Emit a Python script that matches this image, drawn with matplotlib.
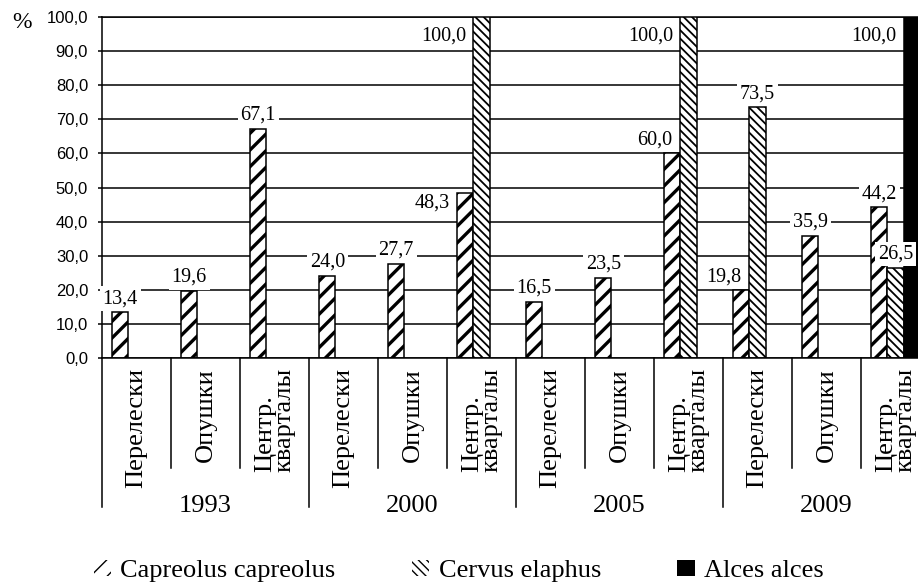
import numpy as np
import matplotlib
matplotlib.use("Agg")
import matplotlib.pyplot as plt
import matplotlib.transforms as mtransforms
from matplotlib.patches import Patch

years = ["1993", "2000", "2005", "2009"]
habitats = ["Перелески", "Опушки", "Центр.\nкварталы"]
series_names = ["Capreolus capreolus", "Cervus elaphus", "Alces alces"]

capreolus = [13.4, 19.6, 67.1, 24.0, 27.7, 48.3, 16.5, 23.5, 60.0, 19.8, 35.9, 44.2]
cervus = [0, 0, 0, 0, 0, 100.0, 0, 0, 100.0, 73.5, 0, 26.5]
alces = [0, 0, 0, 0, 0, 0, 0, 0, 0, 0, 0, 100.0]
yticks = [0, 10, 20, 30, 40, 50, 60, 70, 80, 90, 100]

# label placement per bar: 'top' = centred above, 'tl' = above, left of centre,
# 'side' = to the left of the bar top, None = no label
capreolus_lab = ['top', 'top', 'top', 'top', 'top', 'side', 'top', 'top', 'tl', 'tl', 'top', 'top']
cervus_lab = [None, None, None, None, None, 'side', None, None, 'side', 'top', None, 'top']
alces_lab = [None] * 11 + ['side']

serif = "Liberation Serif"
sans = "Liberation Sans"

fig = plt.figure(figsize=(9.18, 5.84), dpi=100)
W, H = 918, 584
ax = fig.add_axes([102 / W, (H - 358) / H, 828 / W, 341 / H])

n = len(capreolus)
x = np.arange(n)
bw = 0.235
offsets = [-bw, 0, bw]
styles = [
    dict(facecolor='white', hatch='//', hlw=2.4),
    dict(facecolor='white', hatch='\\\\\\\\', hlw=1.3),
    dict(facecolor='black', hatch=None, hlw=1.0),
]

ax.set_axisbelow(True)
handles = []
for vals, off, st, name in zip([capreolus, cervus, alces], offsets, styles, series_names):
    with plt.rc_context({'hatch.linewidth': st['hlw']}):
        bars = ax.bar(x + off, vals, width=bw, facecolor=st['facecolor'], edgecolor='black',
                      linewidth=1.1, hatch=st['hatch'], zorder=2)
        for b in bars:
            if hasattr(b, 'set_hatch_linewidth'):
                b.set_hatch_linewidth(st['hlw'])
            if b.get_height() == 0:
                b.set_visible(False)
        h = Patch(facecolor=st['facecolor'], edgecolor='black', linewidth=0,
                  hatch=st['hatch'], label=name)
        if hasattr(h, 'set_hatch_linewidth'):
            h.set_hatch_linewidth(st['hlw'])
    handles.append(h)

# data labels
for vals, off, labs in zip([capreolus, cervus, alces], offsets, [capreolus_lab, cervus_lab, alces_lab]):
    for i, (v, mode) in enumerate(zip(vals, labs)):
        if mode is None:
            continue
        txt = f"{v:.1f}".replace('.', ',')
        kw = dict(textcoords='offset points', fontsize=14.5, family=serif, zorder=5,
                  bbox=dict(facecolor='white', edgecolor='none', pad=2))
        if mode == 'top':
            ax.annotate(txt, (i + off, v), xytext=(0, 3), ha='center', va='bottom', **kw)
        elif mode == 'tl':
            ax.annotate(txt, (i + off, v), xytext=(0, 3), ha='right', va='bottom', **kw)
        else:
            dy = -7 if v >= 99 else 0
            ax.annotate(txt, (i + off - bw / 2, v), xytext=(-5, dy), ha='right', va='top', **kw)

ax.set_xlim(-0.5, n - 0.5)
ax.set_ylim(0, 100)
ax.set_yticks(yticks)
ax.set_yticklabels([f"{t:.1f}".replace('.', ',') for t in yticks], fontsize=12, family=sans)
ax.tick_params(axis='y', direction='out', length=3, width=1.1, pad=7)
ax.set_xticks([])
ax.yaxis.grid(True, color='black', linewidth=1.1)
for s in ['top', 'right']:
    ax.spines[s].set_visible(False)
ax.spines['left'].set_linewidth(1.1)
ax.spines['bottom'].set_linewidth(1.1)
ax.axhline(100, color='black', linewidth=1.1, clip_on=False, zorder=1)

# category separators and labels below the axis
trans = mtransforms.blended_transform_factory(ax.transData, ax.transAxes)
for k in range(n + 1):
    xb = k - 0.5
    y_end = -0.437 if k % 3 == 0 else -0.323
    ax.plot([xb, xb], [0, y_end], color='black', linewidth=1.1, transform=trans, clip_on=False)
for i in range(n):
    ax.text(i, -0.03, habitats[i % 3], rotation=90, ha='center', va='top', ma='left',
            linespacing=0.85, fontsize=19, family=serif, transform=trans)
for j, yr in enumerate(years):
    ax.text(3 * j + 1, -0.434, yr, ha='center', va='center', fontsize=19, family=serif,
            transform=trans)

fig.text(12 / W, 1 - 22 / H, "%", fontsize=17, family=serif, va='center')

leg = fig.legend(handles=handles, loc='center left', bbox_to_anchor=(94 / W, 13 / H), ncol=3,
                 frameon=False, prop={'family': serif, 'size': 19}, handlelength=0.65,
                 handleheight=0.6, handletextpad=0.35, columnspacing=2.9, borderpad=0,
                 borderaxespad=0)

fig.savefig("out.png", dpi=100)
